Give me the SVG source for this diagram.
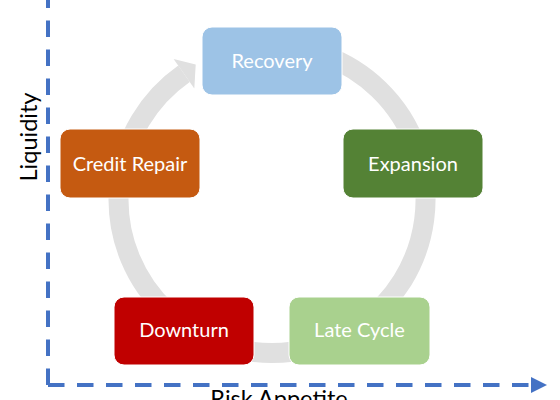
<svg xmlns="http://www.w3.org/2000/svg" width="560" height="400" viewBox="0 0 560 400">
<style>
.box{stroke:#ffffff;stroke-width:1}
.lbl{font-family:Lato,"Liberation Sans",sans-serif;font-size:20px;fill:#ffffff;text-anchor:middle}
.ax{font-family:Lato,"Liberation Sans",sans-serif;font-size:23.5px;fill:#000000;text-anchor:middle}
.axis{fill:none;stroke:#4472C4;stroke-width:4;stroke-dasharray:16.5 12.5}
</style>
<rect width="560" height="400" fill="#ffffff"/>
<g id="connectors">
<path d="M324.5,55.3 A153.5,153.5 0 1 1 184.0,73.8" fill="none" stroke="#E0E0E0" stroke-width="20"/>
<polygon points="173.6,59 195.7,64.6 194.3,88.5" fill="#E0E0E0"/>
</g>
<g id="axes">
<path class="axis" d="M48,385 L48,0"/>
<path class="axis" d="M48,385 L531,385"/>
<polygon points="531,377 547,385 531,393" fill="#4472C4"/>
<text class="ax" x="279" y="407">Risk Appetite</text>
<text class="ax" transform="translate(37,137) rotate(-90)">Liquidity</text>
</g>
<g id="recovery">
<rect class="box" x="202" y="27" width="140" height="68" rx="10" fill="#9DC3E6"/>
<text class="lbl" x="272" y="68">Recovery</text>
</g>
<g id="expansion">
<rect class="box" x="343" y="129" width="140" height="69" rx="10" fill="#548235"/>
<text class="lbl" x="413" y="170.5">Expansion</text>
</g>
<g id="late-cycle">
<rect class="box" x="289" y="297" width="141" height="68" rx="10" fill="#A9D18E"/>
<text class="lbl" x="359.5" y="337">Late Cycle</text>
</g>
<g id="downturn">
<rect class="box" x="114" y="297" width="140" height="68" rx="10" fill="#C00000"/>
<text class="lbl" x="184" y="337">Downturn</text>
</g>
<g id="credit-repair">
<rect class="box" x="60" y="129" width="140" height="69" rx="10" fill="#C55A11"/>
<text class="lbl" x="130" y="170.5">Credit Repair</text>
</g>
</svg>
